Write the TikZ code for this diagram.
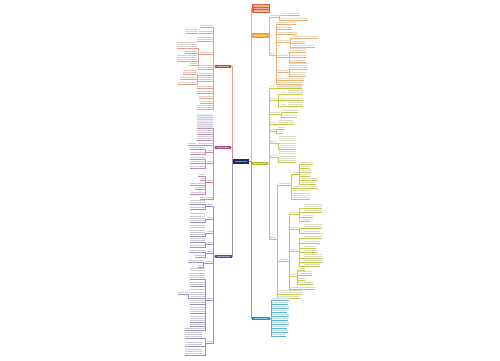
\documentclass[tikz,border=0pt]{standalone}
\definecolor{navy}{HTML}{1C2B5E}
\definecolor{ora}{HTML}{E2603A}
\definecolor{yel}{HTML}{F2B630}
\definecolor{grn}{HTML}{B5BE2A}
\definecolor{tea}{HTML}{1F93B8}
\definecolor{rdb}{HTML}{D9482E}
\definecolor{mag}{HTML}{A24C8E}
\definecolor{vio}{HTML}{5A4796}
\definecolor{yln}{HTML}{F0B070}
\definecolor{gln}{HTML}{C5C94A}
\definecolor{tln}{HTML}{58B3D2}
\definecolor{rln}{HTML}{E8A08E}
\definecolor{mln}{HTML}{C58BB5}
\definecolor{vln}{HTML}{9C90C8}

% leaves: name, x left, x right, y of underline, lines of text
\newcommand\stripes[2]{\foreach \j in {1,...,#2}
  \fill[\bc!40!gray!35] ([shift={(0.4,{-(\j-1)*2.3-0.7})}]#1.south west) rectangle ([shift={(-0.4,{-(\j-1)*2.3-1.8})}]#1.south east);}
\newcommand\rleaf[5]{%
  \node[leaf, minimum width={(#3-#2)*0.02cm}, minimum height={#5*0.046cm}, anchor=south west] (#1) at (#2,#4) {};
  \stripes{#1}{#5}
  \draw[\lc, line width=0.3pt] (#1.south west) -- (#1.south east);}
\newcommand\lleaf[5]{%
  \node[leaf, minimum width={(#3-#2)*0.02cm}, minimum height={#5*0.046cm}, anchor=south east] (#1) at (#3,#4) {};
  \stripes{#1}{#5}
  \draw[\lc, line width=0.3pt] (#1.south west) -- (#1.south east);}
% elbow links from a parent point to its children
\newcommand\rlink[2]{\foreach \kid in {#2} \draw[link,\lc] (#1) -- +(1.2,0) |- (\kid.south west);}
\newcommand\llink[2]{\foreach \kid in {#2} \draw[link,\lc] (#1) -- +(-1.2,0) |- (\kid.south east);}

\begin{document}
\begin{tikzpicture}[x=0.02cm, y=-0.02cm,
    leaf/.style={inner sep=0pt, outer sep=0pt},
    box/.style={inner sep=0pt, outer sep=0pt, minimum height=0.07cm,
      path picture={\fill[white,opacity=0.45] ([xshift=0.04cm,yshift=-0.01cm]path picture bounding box.west) rectangle ([xshift=-0.04cm,yshift=0.01cm]path picture bounding box.east);}},
    link/.style={line width=0.35pt}
    ]
\useasboundingbox (0,0) rectangle (500,360);

% centre and main branches
\node[box, fill=navy, minimum width=0.32cm, minimum height=0.1cm] (C) at (241,161.5) {};
\node[leaf, fill=ora, minimum width=0.36cm, minimum height=0.18cm] (O) at (261,8.5) {};
\foreach \k in {6,8.5,11} \draw[white, opacity=0.5, line width=0.6pt] (253.5,\k) -- (268.5,\k);
\node[box, fill=yel, draw=ora!70, line width=0.3pt, minimum width=0.32cm] (Y) at (260,35.5) {};
\node[box, fill=grn, minimum width=0.34cm] (G) at (259.5,163.5) {};
\node[box, fill=tea, minimum width=0.36cm] (T) at (261,318.5) {};
\node[box, fill=rdb, minimum width=0.32cm] (R) at (223,66.5) {};
\node[box, fill=mag, minimum width=0.32cm] (P) at (223,147.5) {};
\node[box, fill=vio, minimum width=0.34cm] (B) at (223.5,256.5) {};

\draw[link,yln] (C.east) -- +(2,0) |- (O.west);
\draw[link,yln] (C.east) -- +(2,0) |- (Y.west);
\draw[link,gln] (C.east) -- +(2,0) |- (G.west);
\draw[link,tln] (C.east) -- +(2,0) |- (T.west);
\draw[link,rln] (C.west) -- +(-1,0) |- (R.east);
\draw[link,mln] (C.west) -- +(-1,0) |- (P.east);
\draw[link,vln] (C.west) -- +(-1,0) |- (B.east);

% yellow branch
\def\bc{yel}\def\lc{yln}
\rleaf{y1}{270}{278}{17}{1}
\rleaf{y1a}{281}{300}{15}{1}
\rleaf{y1b}{281}{308}{20}{1}
\rleaf{y2}{270}{275}{55}{1}
\rleaf{y2a}{277}{296}{24}{1}
\rleaf{y2b}{277}{292}{29}{1}
\rleaf{y2c}{277}{297}{34}{1}
\rleaf{y2d}{277}{289}{42}{1}
\rleaf{y2d1}{292}{318}{38}{1}
\rleaf{y2d2}{292}{305}{43}{1}
\rleaf{y2d3}{292}{315}{47}{1}
\rleaf{y2e}{277}{288}{57}{1}
\rleaf{y2e1}{290}{306}{52}{2}
\rleaf{y2e2}{290}{306}{57}{1}
\rleaf{y2e3}{290}{306}{62}{1}
\rleaf{y2f}{277}{288}{72}{1}
\rleaf{y2f1}{290}{308}{69}{3}
\rleaf{y2f2}{290}{306}{76}{2}
\rleaf{y2g}{277}{304}{80}{1}
\rleaf{y2h}{277}{302}{84}{1}
\rlink{Y.east}{y1,y2}
\rlink{y1.south east}{y1a,y1b}
\rlink{y2.south east}{y2a,y2b,y2c,y2d,y2e,y2f,y2g,y2h}
\rlink{y2d.south east}{y2d1,y2d2,y2d3}
\rlink{y2e.south east}{y2e1,y2e2,y2e3}
\rlink{y2f.south east}{y2f1,y2f2}

% green branch
\def\bc{grn}\def\lc{gln}
\rleaf{g1}{270}{275}{88}{1}
\fill[grn!25] (277,85.4) rectangle (302,88);
\rleaf{g1a}{277}{302}{88}{1}
\rleaf{g2}{270}{277}{100}{1}
\rleaf{g2a}{281}{286}{94}{1}
\rleaf{g2a1}{288}{303}{94}{2}
\rleaf{g2b}{281}{286}{100}{1}
\rleaf{g2b1}{288}{303}{100}{1}
\rleaf{g2c}{281}{286}{106}{1}
\rleaf{g2c1}{288}{303}{106}{2}
\rleaf{g3}{270}{280}{114}{1}
\rleaf{g3a}{282}{298}{112}{1}
\rleaf{g3b}{282}{297}{117}{1}
\rleaf{g4}{270}{276}{124}{1}
\rleaf{g4a}{278}{294}{124}{2}
\rleaf{g5}{270}{275}{131}{1}
\rleaf{g5a}{278}{285}{129}{1}
\rleaf{g5b}{278}{283}{133}{1}
\rleaf{g6}{270}{277}{143}{1}
\rleaf{g6a}{279}{296}{149}{6}
\rleaf{g7}{270}{277}{157}{1}
\rleaf{g7a}{279}{296}{162}{5}
\rleaf{g8}{270}{276}{239}{1}
\rleaf{g8a}{279}{290}{185}{1}
\rleaf{g8a1}{293}{298}{174}{1}
\rleaf{g8a1a}{301}{313}{164}{1}
\rleaf{g8a1b}{301}{310}{168}{1}
\rleaf{g8a1c}{301}{311}{172}{1}
\rleaf{g8a1d}{301}{310}{176}{1}
\rleaf{g8a1e}{301}{318}{180}{1}
\rleaf{g8a1f}{301}{316}{184}{1}
\rleaf{g8a2}{293}{318}{188}{1}
\rleaf{g8a3}{293}{310}{199}{4}
\rleaf{g8b}{279}{288}{261}{1}
\rleaf{g8b1}{290}{298}{214}{1}
\rleaf{g8b1a}{304}{322}{208}{2}
\rleaf{g8b1b}{304}{322}{212}{1}
\rleaf{g8b1c}{304}{313}{217}{1}
\rleaf{g8b1d}{304}{310}{221}{1}
\rleaf{g8b2}{290}{298}{229}{1}
\rleaf{g8b2a}{304}{322}{228}{2}
\rleaf{g8b2b}{304}{320}{233}{1}
\rleaf{g8b3}{290}{298}{251}{1}
\rleaf{g8b3a}{304}{322}{238}{1}
\rleaf{g8b3b}{304}{320}{243}{1}
\rleaf{g8b3c}{304}{316}{248}{1}
\rleaf{g8b3d}{304}{318}{252}{1}
\rleaf{g8b3e}{304}{322}{258}{2}
\rleaf{g8b3f}{304}{322}{262}{1}
\rleaf{g8b3g}{304}{320}{266}{1}
\rleaf{g8b4}{290}{296}{276}{1}
\rleaf{g8b4a}{298}{305}{270}{1}
\rleaf{g8b4b}{298}{312}{275}{2}
\rleaf{g8b4c}{298}{305}{280}{1}
\rleaf{g8b4d}{298}{313}{284}{1}
\rleaf{g8b5}{290}{315}{289}{1}
\rleaf{g8c}{279}{302}{294}{2}
\rleaf{g8d}{279}{300}{298}{1}
\rlink{G.east}{g1,g2,g3,g4,g5,g6,g7,g8}
\rlink{g1.south east}{g1a}
\rlink{g2.south east}{g2a,g2b,g2c}
\rlink{g2a.south east}{g2a1}
\rlink{g2b.south east}{g2b1}
\rlink{g2c.south east}{g2c1}
\rlink{g3.south east}{g3a,g3b}
\rlink{g4.south east}{g4a}
\rlink{g5.south east}{g5a,g5b}
\rlink{g6.south east}{g6a}
\rlink{g7.south east}{g7a}
\rlink{g8.south east}{g8a,g8b,g8c,g8d}
\rlink{g8a.south east}{g8a1,g8a2,g8a3}
\rlink{g8a1.south east}{g8a1a,g8a1b,g8a1c,g8a1d,g8a1e,g8a1f}
\rlink{g8b.south east}{g8b1,g8b2,g8b3,g8b4,g8b5}
\rlink{g8b1.south east}{g8b1a,g8b1b,g8b1c,g8b1d}
\rlink{g8b2.south east}{g8b2a,g8b2b}
\rlink{g8b3.south east}{g8b3a,g8b3b,g8b3c,g8b3d,g8b3e,g8b3f,g8b3g}
\rlink{g8b4.south east}{g8b4a,g8b4b,g8b4c,g8b4d}

% teal branch
\def\bc{tea}\def\lc{tln}
\foreach \i/\w in {1/17,2/16,3/17,4/15,5/17,6/16,7/17,8/15,9/16,10/14}
  \rleaf{t\i}{272}{272+\w}{296+4*\i}{1};
\rlink{T.east}{t1,t2,t3,t4,t5,t6,t7,t8,t9,t10}

% red branch
\def\bc{rdb}\def\lc{rln}
\lleaf{r1}{200}{213}{27}{1}
\lleaf{r2}{199}{213}{33}{1}
\lleaf{r2a}{186}{197}{33}{2}
\lleaf{r3}{197}{213}{41}{2}
\lleaf{r4}{200}{213}{54}{1}
\lleaf{r4a}{177}{197}{48}{3}
\lleaf{r4b}{185}{197}{53}{1}
\lleaf{r4c}{177}{197}{61}{3}
\lleaf{r4d}{190}{197}{65}{1}
\lleaf{r5}{198}{213}{69}{2}
\lleaf{r6}{199}{213}{75}{1}
\lleaf{r6a}{183}{197}{74}{2}
\lleaf{r6b}{180}{197}{79}{1}
\lleaf{r6c}{178}{197}{84}{1}
\lleaf{r7}{197}{213}{81}{2}
\lleaf{r8}{197}{213}{88}{1}
\lleaf{r9}{197}{213}{93}{1}
\lleaf{r10}{199}{213}{98}{1}
\lleaf{r11}{200}{213}{103}{1}
\lleaf{r12}{197}{213}{109}{2}
\llink{R.west}{r1,r2,r3,r4,r5,r6,r7,r8,r9,r10,r11,r12}
\llink{r2.south west}{r2a}
\llink{r4.south west}{r4a,r4b,r4c,r4d}
\llink{r6.south west}{r6a,r6b,r6c}

% magenta branch
\def\bc{mag}\def\lc{mln}
\fill[vio!12] (197,114) rectangle (213,128);
\lleaf{p1}{197}{213}{128}{6}
\lleaf{p2}{197}{213}{134}{2}
\lleaf{p3}{197}{213}{140}{2}
\lleaf{p4}{198}{213}{145}{1}
\lleaf{p4a}{188}{196}{145}{1}
\lleaf{p5}{207}{213}{152}{1}
\lleaf{p5a}{190}{205}{149}{1}
\lleaf{p5b}{190}{205}{154}{1}
\lleaf{p6}{207}{213}{163}{1}
\lleaf{p6a}{190}{205}{159}{1}
\lleaf{p6b}{190}{205}{163}{1}
\lleaf{p6c}{190}{205}{168}{1}
\lleaf{p7}{207}{213}{182}{1}
\lleaf{p7a}{198}{205}{176}{1}
\lleaf{p7b}{200}{205}{180}{1}
\lleaf{p7c}{190}{205}{185}{1}
\lleaf{p7d}{195}{205}{189}{1}
\lleaf{p7e}{190}{205}{194}{1}
\lleaf{p8}{200}{213}{199}{1}
\llink{P.west}{p1,p2,p3,p4,p5,p6,p7,p8}
\llink{p4.south west}{p4a}
\llink{p5.south west}{p5a,p5b}
\llink{p6.south west}{p6a,p6b,p6c}
\llink{p7.south west}{p7a,p7b,p7c,p7d,p7e}

% violet branch
\def\bc{vio}\def\lc{vln}
\lleaf{b1}{207}{213}{206}{1}
\lleaf{b1a}{190}{205}{204}{2}
\lleaf{b1b}{190}{205}{209}{1}
\lleaf{b2}{207}{213}{219}{1}
\lleaf{b2a}{190}{205}{222}{4}
\lleaf{b3}{207}{213}{233}{1}
\lleaf{b3a}{190}{205}{236}{5}
\lleaf{b4}{207}{213}{244}{1}
\lleaf{b4a}{190}{205}{242}{2}
\lleaf{b4b}{190}{205}{247}{1}
\lleaf{b5}{207}{213}{253}{1}
\lleaf{b5a}{190}{205}{252}{1}
\lleaf{b5b}{195}{205}{257}{1}
\lleaf{b6}{205}{213}{263}{1}
\lleaf{b6a}{188}{203}{262}{1}
\lleaf{b6b}{198}{203}{267}{1}
\lleaf{b7}{207}{213}{300}{1}
\lleaf{b7a}{190}{205}{279}{5}
\lleaf{b7b}{190}{205}{286}{2}
\lleaf{b7c}{190}{205}{298}{4}
\lleaf{b7c1}{178}{188}{294}{1}
\lleaf{b7d}{190}{205}{304}{2}
\lleaf{b7e}{190}{205}{313}{3}
\lleaf{b7f}{190}{205}{322}{3}
\lleaf{b7g}{190}{205}{326}{1}
\lleaf{b7h}{185}{205}{330}{1}
\lleaf{b8}{207}{213}{343}{1}
\lleaf{b8a}{185}{202}{338}{3}
\lleaf{b8b}{185}{202}{346}{2}
\lleaf{b8c}{185}{202}{355}{3}
\llink{B.west}{b1,b2,b3,b4,b5,b6,b7,b8}
\llink{b1.south west}{b1a,b1b}
\llink{b2.south west}{b2a}
\llink{b3.south west}{b3a}
\llink{b4.south west}{b4a,b4b}
\llink{b5.south west}{b5a,b5b}
\llink{b6.south west}{b6a,b6b}
\llink{b7.south west}{b7a,b7b,b7c,b7d,b7e,b7f,b7g,b7h}
\llink{b7c.south west}{b7c1}
\llink{b8.south west}{b8a,b8b,b8c}
\end{tikzpicture}
\end{document}
